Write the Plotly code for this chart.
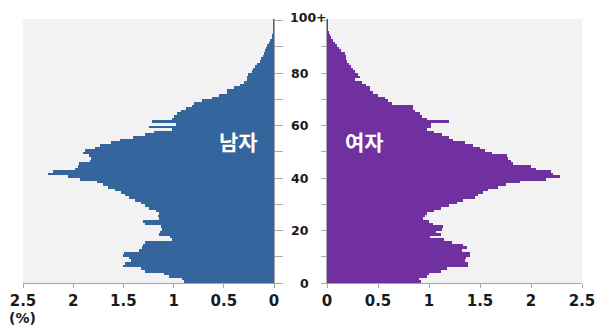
import plotly.graph_objects as go

ages = list(range(0, 101))

male = [0.90, 0.92, 1.05, 1.10, 1.28, 1.32, 1.50, 1.48, 1.42, 1.44,
        1.50, 1.49, 1.34, 1.31, 1.30, 1.28, 1.02, 1.04, 1.15, 1.14,
        1.12, 1.13, 1.28, 1.30, 1.15, 1.16, 1.15, 1.18, 1.25, 1.28,
        1.32, 1.38, 1.44, 1.48, 1.52, 1.58, 1.65, 1.70, 1.76, 1.93,
        2.05, 2.25, 2.20, 1.98, 1.95, 1.94, 1.83, 1.82, 1.84, 1.90,
        1.88, 1.78, 1.73, 1.62, 1.53, 1.40, 1.28, 1.20, 1.02, 1.25,
        0.98, 1.22, 1.02, 1.00, 0.97, 0.93, 0.88, 0.82, 0.80, 0.72,
        0.62, 0.55, 0.47, 0.47, 0.40, 0.34, 0.30, 0.27, 0.27, 0.26,
        0.22, 0.21, 0.19, 0.17, 0.14, 0.13, 0.11, 0.10, 0.09, 0.08,
        0.07, 0.05, 0.035, 0.02, 0.012, 0.008, 0.005, 0.004, 0.003, 0.002,
        0.004]

female = [0.92, 0.90, 0.98, 1.00, 1.12, 1.18, 1.38, 1.38, 1.35, 1.36,
          1.40, 1.40, 1.32, 1.37, 1.33, 1.23, 1.15, 1.01, 1.12, 1.07,
          1.13, 1.14, 1.04, 1.00, 0.94, 0.96, 0.98, 1.05, 1.12, 1.20,
          1.27, 1.33, 1.45, 1.48, 1.53, 1.58, 1.68, 1.75, 1.89, 2.15,
          2.28, 2.22, 2.20, 2.05, 2.00, 1.82, 1.80, 1.77, 1.76, 1.62,
          1.55, 1.50, 1.43, 1.35, 1.24, 1.20, 1.13, 1.05, 0.98, 1.02,
          1.02, 1.20, 0.98, 0.93, 0.91, 0.86, 0.84, 0.84, 0.64, 0.60,
          0.57, 0.50, 0.45, 0.42, 0.42, 0.38, 0.34, 0.27, 0.32, 0.30,
          0.27, 0.25, 0.24, 0.22, 0.20, 0.19, 0.19, 0.18, 0.14, 0.12,
          0.10, 0.08, 0.06, 0.04, 0.03, 0.01, 0.005, 0.004, 0.003, 0.002,
          0.004]

age_tick_vals = [0, 20, 40, 60, 80, 100]
age_tick_text = ["0", "20", "40", "60", "80", "100+"]
pct_tick_vals = [0, 0.5, 1, 1.5, 2, 2.5]
pct_tick_text = ["0", "0.5", "1", "1.5", "2", "2.5"]
label_male = "남자"
label_female = "여자"
unit_label = "(%)"

MALE_COLOR = "#34659c"
FEMALE_COLOR = "#7030a0"
BG = "#f2f2f2"
AXIS_GRAY = "#a6a6a6"

W, H = 597, 328
def px(x):
    return x / W
def py(y):
    return 1 - y / H

ycenters = [a + 0.5 for a in ages]

fig = go.Figure()
fig.add_trace(go.Bar(y=ycenters, x=male, orientation="h", width=1,
                     marker=dict(color=MALE_COLOR, line=dict(width=0)),
                     xaxis="x", yaxis="y", showlegend=False))
fig.add_trace(go.Bar(y=ycenters, x=female, orientation="h", width=1,
                     marker=dict(color=FEMALE_COLOR, line=dict(width=0)),
                     xaxis="x2", yaxis="y2", showlegend=False))

ydom = [py(283), py(19)]
yrange = [0, 100.6]
tickfont = dict(family="DejaVu Sans", size=15, color="#1a1a1a", weight="bold")

fig.update_layout(
    width=W, height=H,
    margin=dict(l=0, r=0, t=0, b=0, autoexpand=False),
    paper_bgcolor="white",
    plot_bgcolor=BG,
    bargap=0,
    xaxis=dict(domain=[px(23), px(274)], range=[2.5, 0], tickvals=pct_tick_vals,
               ticktext=pct_tick_text, ticks="outside", ticklen=4, tickcolor=AXIS_GRAY,
               showline=True, linecolor=AXIS_GRAY, linewidth=1, showgrid=False,
               zeroline=False, tickfont=tickfont, anchor="y", automargin=False),
    xaxis2=dict(domain=[px(327), px(582)], range=[0, 2.5], tickvals=pct_tick_vals,
                ticktext=pct_tick_text, ticks="outside", ticklen=4, tickcolor=AXIS_GRAY,
                showline=True, linecolor=AXIS_GRAY, linewidth=1, showgrid=False,
                zeroline=False, tickfont=tickfont, anchor="y2", automargin=False),
    yaxis=dict(domain=ydom, range=yrange, side="right", anchor="x",
               tickvals=list(range(0, 101, 10)), ticks="outside", ticklen=8,
               tickcolor=AXIS_GRAY, showticklabels=False, showline=True,
               linecolor=AXIS_GRAY, linewidth=1, showgrid=False, zeroline=False,
               automargin=False),
    yaxis2=dict(domain=ydom, range=yrange, side="left", anchor="x2",
                tickvals=list(range(0, 101, 10)), ticks="outside", ticklen=5,
                tickcolor=AXIS_GRAY, showticklabels=False, showline=True,
                linecolor=AXIS_GRAY, linewidth=1, showgrid=False, zeroline=False,
                automargin=False),
)

for v, t in zip(age_tick_vals, age_tick_text):
    special = t.endswith("+")
    fig.add_annotation(x=px(308) if special else px(311), xref="paper", y=v, yref="y",
                       yshift=3 if special else 0, text=t,
                       showarrow=False, xanchor="center" if special else "right",
                       yanchor="middle",
                       font=dict(family="DejaVu Sans", size=12.5, color="#1a1a1a", weight="bold"))

fig.add_annotation(x=px(22), xref="paper", y=py(318), yref="paper", text=unit_label,
                   showarrow=False, xanchor="center", yanchor="middle",
                   font=dict(family="DejaVu Sans", size=14, color="#1a1a1a", weight="bold"))

fig.add_annotation(x=px(238), xref="paper", y=py(141), yref="paper", text=label_male,
                   showarrow=False, xanchor="center", yanchor="middle",
                   font=dict(family="Noto Sans CJK KR", size=21, color="white", weight="bold"))
fig.add_annotation(x=px(364), xref="paper", y=py(141), yref="paper", text=label_female,
                   showarrow=False, xanchor="center", yanchor="middle",
                   font=dict(family="Noto Sans CJK KR", size=21, color="white", weight="bold"))

fig.write_html("out.html", config={"displayModeBar": False},
               post_script="document.body.style.margin='0px';")
